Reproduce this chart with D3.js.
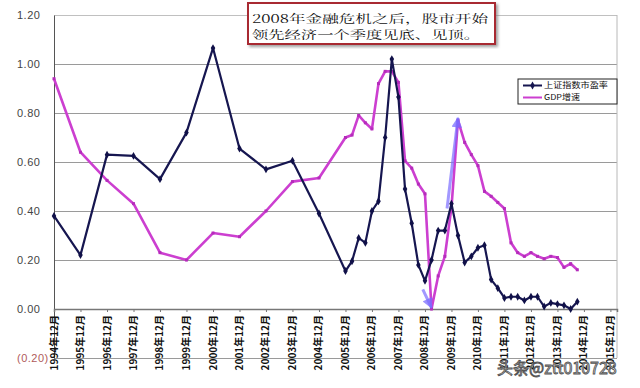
<!DOCTYPE html>
<html>
<head>
<meta charset="utf-8">
<script src="https://cdn.jsdelivr.net/npm/d3@7"></script>
<style>
    body { margin: 0; background: #fff; }
    #graph { width: 640px; height: 388px; }
</style>
</head>
<body>
<div id="graph"></div>
<script>

// Dates: yearly until 2005, quarterly afterwards
var dates = [ '1994-12', '1995-12', '1996-12', '1997-12', '1998-12', '1999-12',
              '2000-12', '2001-12', '2002-12', '2003-12', '2004-12', '2005-12',
              '2006-03', '2006-06', '2006-09', '2006-12',
              '2007-03', '2007-06', '2007-09', '2007-12',
              '2008-03', '2008-06', '2008-09', '2008-12',
              '2009-03', '2009-06', '2009-09', '2009-12',
              '2010-03', '2010-06', '2010-09', '2010-12',
              '2011-03', '2011-06', '2011-09', '2011-12',
              '2012-03', '2012-06', '2012-09', '2012-12',
              '2013-03', '2013-06', '2013-09', '2013-12',
              '2014-03', '2014-06', '2014-09' ];

// 上证指数市盈率
var peValues = [ 0.38, 0.22, 0.63, 0.625, 0.53, 0.72, 1.065, 0.655, 0.57, 0.605, 0.39, 0.155,
                 0.195, 0.29, 0.27, 0.40,
                 0.44, 0.70, 1.02, 0.865,
                 0.49, 0.35, 0.18, 0.115,
                 0.20, 0.32, 0.32, 0.43,
                 0.30, 0.19, 0.215, 0.25,
                 0.26, 0.12, 0.085, 0.045,
                 0.05, 0.05, 0.035, 0.05,
                 0.05, 0.01, 0.025, 0.02,
                 0.015, 0.0, 0.03 ];

// GDP增速
var gdpValues = [ 0.94, 0.64, 0.525, 0.43, 0.23, 0.20, 0.31, 0.295, 0.40, 0.52, 0.535, 0.70,
                  0.71, 0.79, 0.76, 0.735,
                  0.92, 0.97, 0.97, 0.925,
                  0.605, 0.575, 0.51, 0.47,
                  0.0, 0.135, 0.215, 0.415,
                  0.77, 0.68, 0.63, 0.585,
                  0.48, 0.46, 0.435, 0.41,
                  0.27, 0.23, 0.215, 0.23,
                  0.215, 0.205, 0.215, 0.21,
                  0.17, 0.185, 0.16 ];

var tickYears   = d3.range (1994, 2016);
var yTicks      = [ -0.2, 0, 0.2, 0.4, 0.6, 0.8, 1.0, 1.2 ];
var seriesNames = [ '上证指数市盈率', 'GDP增速' ];

// arrows drawn on the chart: [from date, from value, to date, to value]
var arrows = [ [ '2008-11', 0.08, '2009-03', 0.005 ],
               [ '2009-10', 0.41, '2010-03', 0.78 ] ];

var noteLines = [ '2008年金融危机之后，股市开始', '领先经济一个季度见底、见顶。' ];
var watermark = '头条@ztt010728';

function D3App ()
{
    var width  = 640;
    var height = 388;

    var parse = d3.timeParse ('%Y-%m');

    var svg = d3.select ('#graph')
                .append ('svg')
                .attr ('width', width)
                .attr ('height', height);

    // Scales
    var xScale = d3.scaleTime ()
                   .domain ([ new Date (1994, 11, 1), new Date (2016, 2, 1) ])
                   .range ([ 54, 617 ]);

    var yScale = d3.scaleLinear ()
                   .domain ([ -0.2, 1.2 ])
                   .range ([ 358, 15 ]);

    var defs = svg.append ('defs');

    defs.append ('marker')
        .attr ('id', 'arrowHead')
        .attr ('viewBox', '0 0 10 10')
        .attr ('refX', 9)
        .attr ('refY', 5)
        .attr ('markerWidth', 4)
        .attr ('markerHeight', 3.5)
        .attr ('markerUnits', 'strokeWidth')
        .attr ('orient', 'auto')
        .append ('path')
        .attr ('d', 'M0,0 L10,5 L0,10 Z')
        .attr ('fill', '#7a6cff')
        .attr ('fill-opacity', 0.75);

    defs.append ('filter')
        .attr ('id', 'shadow')
        .append ('feDropShadow')
        .attr ('dx', 2).attr ('dy', 2).attr ('stdDeviation', 1.5)
        .attr ('flood-color', '#777').attr ('flood-opacity', 0.7);

    // Horizontal grid
    var yGrid = d3.axisLeft (yScale)
                  .tickValues (yTicks.filter (function (d) { return d !== 0; }))
                  .tickSize (-(617 - 54))
                  .tickFormat ('');

    var gGrid = svg.append ('g')
                   .attr ('class', 'grid')
                   .attr ('transform', 'translate(54,0)')
                   .call (yGrid);
    gGrid.select ('.domain').remove ();
    gGrid.selectAll ('line')
         .attr ('stroke', function (d) { return d === 1.2 ? '#c0c0c0' : '#9a9a9a'; })
         .attr ('stroke-width', 1);

    // right border of plot area
    svg.append ('line')
       .attr ('x1', xScale.range ()[1]).attr ('x2', xScale.range ()[1])
       .attr ('y1', yScale (1.2)).attr ('y2', yScale (-0.2))
       .attr ('stroke', '#b8b8b8');

    // Y axis
    var yAxis = d3.axisLeft (yScale)
                  .tickValues (yTicks)
                  .tickSize (0)
                  .tickFormat (function (d)
                  {
                      return d < 0 ? '(' + d3.format ('.2f') (-d) + ')' : d3.format ('.2f') (d);
                  });

    var gY = svg.append ('g')
                .attr ('class', 'y axis')
                .attr ('transform', 'translate(54,0)')
                .call (yAxis);
    gY.select ('.domain').attr ('stroke', '#555');
    gY.selectAll ('text')
      .attr ('x', -37)
      .attr ('text-anchor', 'start')
      .style ('font-family', '"Liberation Sans", Arial, sans-serif')
      .style ('font-size', '11px')
      .style ('letter-spacing', '0.5px')
      .attr ('fill', function (d) { return d < 0 ? '#b05a5a' : '#444'; });

    // X axis at zero
    var xAxis = d3.axisBottom (xScale)
                  .tickValues (tickYears.map (function (y) { return new Date (y, 11, 1); }))
                  .tickSize (3)
                  .tickFormat ('');

    var gX = svg.append ('g')
                .attr ('class', 'x axis')
                .attr ('transform', 'translate(0,' + yScale (0) + ')')
                .call (xAxis);
    gX.select ('.domain').attr ('stroke', '#777').attr ('stroke-width', 1.5);
    gX.selectAll ('line').attr ('stroke', '#777');

    // rotated tick labels
    svg.append ('g')
       .selectAll ('text')
       .data (tickYears)
       .enter ()
       .append ('text')
       .attr ('transform', function (y)
       {
           return 'translate(' + xScale (new Date (y, 11, 1)) + ',' + (yScale (0) + 6) + ') rotate(-90)';
       })
       .attr ('text-anchor', 'end')
       .attr ('dy', '0.35em')
       .style ('font-family', '"Noto Sans CJK SC", sans-serif')
       .style ('font-size', '10px')
       .style ('font-weight', 'bold')
       .attr ('fill', '#111')
       .text (function (y) { return y + '年12月'; });

    // Lines
    var peData  = dates.map (function (d, i) { return { x: parse (d), y: peValues[i] }; });
    var gdpData = dates.map (function (d, i) { return { x: parse (d), y: gdpValues[i] }; });

    var line = d3.line ()
                 .x (function (d) { return xScale (d.x); })
                 .y (function (d) { return yScale (d.y); });

    svg.append ('path')
       .datum (gdpData)
       .attr ('d', line)
       .attr ('fill', 'none')
       .attr ('stroke', '#cc3fd0')
       .attr ('stroke-width', 2.6)
       .attr ('stroke-linejoin', 'round');

    svg.append ('g')
       .selectAll ('rect')
       .data (gdpData)
       .enter ()
       .append ('rect')
       .attr ('x', function (d) { return xScale (d.x) - 1.5; })
       .attr ('y', function (d) { return yScale (d.y) - 1.5; })
       .attr ('width', 3)
       .attr ('height', 3)
       .attr ('fill', '#b52cbb');

    svg.append ('path')
       .datum (peData)
       .attr ('d', line)
       .attr ('fill', 'none')
       .attr ('stroke', '#161650')
       .attr ('stroke-width', 2.2)
       .attr ('stroke-linejoin', 'round');

    svg.append ('g')
       .selectAll ('path')
       .data (peData)
       .enter ()
       .append ('path')
       .attr ('transform', function (d) { return 'translate(' + xScale (d.x) + ',' + yScale (d.y) + ')'; })
       .attr ('d', d3.symbol ().type (d3.symbolDiamond).size (18))
       .attr ('fill', '#101048');

    // Arrows
    svg.append ('g')
       .selectAll ('line')
       .data (arrows)
       .enter ()
       .append ('line')
       .attr ('x1', function (a) { return xScale (parse (a[0])); })
       .attr ('y1', function (a) { return yScale (a[1]); })
       .attr ('x2', function (a) { return xScale (parse (a[2])); })
       .attr ('y2', function (a) { return yScale (a[3]); })
       .attr ('stroke', '#7a6cff')
       .attr ('stroke-opacity', 0.7)
       .attr ('stroke-width', 3)
       .attr ('marker-end', 'url(#arrowHead)');

    // Legend
    var legend = svg.append ('g').attr ('transform', 'translate(518,79)');

    legend.append ('rect')
          .attr ('width', 99)
          .attr ('height', 25)
          .attr ('fill', '#fff')
          .attr ('stroke', '#222')
          .attr ('stroke-width', 1);

    var legendColours = [ '#161650', '#cc3fd0' ];
    var legendWidths  = [ 64, 36 ];

    seriesNames.forEach (function (name, i)
    {
        var yy = 6.5 + i * 12;

        legend.append ('line')
              .attr ('x1', 5).attr ('x2', 24)
              .attr ('y1', yy).attr ('y2', yy)
              .attr ('stroke', legendColours[i])
              .attr ('stroke-width', 2);

        if (i === 0)
            legend.append ('path')
                  .attr ('transform', 'translate(14.5,' + yy + ')')
                  .attr ('d', d3.symbol ().type (d3.symbolDiamond).size (18))
                  .attr ('fill', legendColours[i]);

        legend.append ('text')
              .attr ('x', 26)
              .attr ('y', yy)
              .attr ('dy', '0.35em')
              .attr ('textLength', legendWidths[i])
              .attr ('lengthAdjust', 'spacingAndGlyphs')
              .style ('font-family', '"Noto Sans CJK SC", sans-serif')
              .style ('font-size', '8px')
              .attr ('fill', '#111')
              .text (name);
    });

    // Annotation box
    var note = svg.append ('g');

    note.append ('rect')
        .attr ('x', 248).attr ('y', 3)
        .attr ('width', 247).attr ('height', 41)
        .attr ('fill', '#fff')
        .attr ('stroke', '#a82a30')
        .attr ('stroke-width', 2)
        .attr ('filter', 'url(#shadow)');

    note.selectAll ('text')
        .data (noteLines)
        .enter ()
        .append ('text')
        .attr ('x', 252)
        .attr ('y', function (d, i) { return 22.5 + i * 16.5; })
        .attr ('textLength', function (d, i) { return i === 0 ? 236 : 228; })
        .attr ('lengthAdjust', 'spacingAndGlyphs')
        .style ('font-family', '"Noto Serif CJK SC", "Noto Sans CJK SC", serif')
        .style ('font-size', '11.3px')
        .attr ('fill', '#111')
        .text (function (d) { return d; });

    // Watermark
    svg.append ('text')
       .attr ('x', 497)
       .attr ('y', 374)
       .style ('font-family', '"Noto Sans CJK SC", sans-serif')
       .style ('font-size', '16px')
       .attr ('fill', '#fff')
       .attr ('stroke', '#555')
       .attr ('stroke-width', 0.9)
       .text (watermark);
}

D3App ();
</script>
</body>
</html>
